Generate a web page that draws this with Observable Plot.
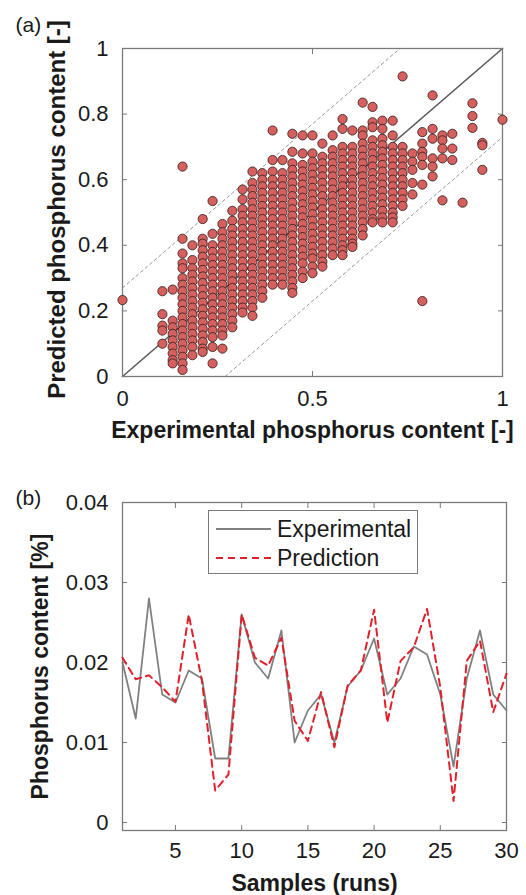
<!DOCTYPE html>
<html>
<head>
<meta charset="utf-8">
<script src="https://cdn.jsdelivr.net/npm/d3@7"></script>
<script src="https://cdn.jsdelivr.net/npm/@observablehq/plot@0.6"></script>
<style>
  html, body { margin: 0; padding: 0; background: #fff; }
  #wrap { position: relative; width: 526px; height: 895px; font-family: "Liberation Sans", Arial, sans-serif; color: #1a1a1a; }
  #top { position: absolute; left: 0; top: 0; }
  #bottom { position: absolute; left: 0; top: 450px; }
  #legend { position: absolute; left: 208px; top: 510px; width: 210px; height: 64px; border: 1px solid #7a7a7a; background: #fff; box-sizing: border-box; font-size: 23px; }
  #legend .row { position: absolute; left: 0; height: 28px; display: flex; align-items: center; }
  #legend svg { display: block; }
</style>
</head>
<body>
<div id="wrap">
  <div id="top"></div>
  <div id="bottom"></div>
  <div id="legend"></div>
</div>
<script>
// ---------- Panel (a): scatter, column positions (experimental) and predicted values ----------
const colX = [0, 0.105, 0.132, 0.158, 0.184, 0.211, 0.237, 0.263, 0.289, 0.316, 0.342, 0.368, 0.395,
  0.421, 0.447, 0.474, 0.5, 0.526, 0.553, 0.579, 0.605, 0.632, 0.658, 0.684, 0.711, 0.737, 0.763,
  0.789, 0.816, 0.842, 0.868, 0.895, 0.921, 0.947, 1.0];
const colY = [
  [0.233],
  [0.26, 0.19, 0.155, 0.14, 0.10],
  [0.265, 0.17, 0.15, 0.13, 0.11, 0.09, 0.07, 0.05, 0.04],
  [0.64, 0.42, 0.375, 0.345, 0.33, 0.30, 0.28, 0.26, 0.24, 0.22, 0.20, 0.18, 0.16, 0.14, 0.12, 0.10, 0.08, 0.06, 0.04, 0.02],
  [0.40, 0.355, 0.33, 0.31, 0.29, 0.27, 0.25, 0.23, 0.21, 0.19, 0.17, 0.15, 0.13, 0.11, 0.09, 0.065],
  [0.48, 0.42, 0.405, 0.385, 0.365, 0.345, 0.325, 0.305, 0.285, 0.265, 0.245, 0.225, 0.205, 0.185, 0.165, 0.145, 0.125, 0.105, 0.085, 0.075],
  [0.535, 0.435, 0.40, 0.38, 0.36, 0.34, 0.32, 0.30, 0.28, 0.26, 0.24, 0.22, 0.20, 0.18, 0.16, 0.14, 0.12, 0.09, 0.04],
  [0.465, 0.44, 0.42, 0.40, 0.38, 0.36, 0.34, 0.32, 0.30, 0.28, 0.26, 0.24, 0.22, 0.20, 0.18, 0.16, 0.14, 0.125, 0.085],
  [0.505, 0.475, 0.45, 0.43, 0.41, 0.39, 0.37, 0.35, 0.33, 0.31, 0.29, 0.27, 0.25, 0.23, 0.21, 0.19, 0.17, 0.15],
  [0.57, 0.54, 0.51, 0.49, 0.47, 0.45, 0.43, 0.41, 0.39, 0.37, 0.35, 0.33, 0.31, 0.29, 0.27, 0.25, 0.23, 0.21, 0.195],
  [0.625, 0.59, 0.57, 0.55, 0.53, 0.51, 0.49, 0.47, 0.45, 0.43, 0.41, 0.39, 0.37, 0.35, 0.33, 0.31, 0.29, 0.27, 0.25, 0.23, 0.21, 0.185],
  [0.62, 0.60, 0.58, 0.56, 0.54, 0.52, 0.50, 0.48, 0.46, 0.44, 0.42, 0.40, 0.38, 0.36, 0.34, 0.32, 0.30, 0.28, 0.26, 0.24],
  [0.75, 0.66, 0.625, 0.60, 0.58, 0.56, 0.54, 0.52, 0.50, 0.48, 0.46, 0.44, 0.42, 0.40, 0.38, 0.36, 0.34, 0.32, 0.30, 0.28],
  [0.66, 0.62, 0.60, 0.58, 0.56, 0.54, 0.52, 0.50, 0.48, 0.46, 0.44, 0.42, 0.40, 0.38, 0.36, 0.34, 0.32, 0.30, 0.28],
  [0.74, 0.685, 0.65, 0.63, 0.61, 0.59, 0.57, 0.55, 0.53, 0.51, 0.49, 0.47, 0.45, 0.43, 0.41, 0.39, 0.37, 0.35, 0.33, 0.31, 0.29, 0.27, 0.255],
  [0.735, 0.68, 0.645, 0.625, 0.605, 0.585, 0.565, 0.545, 0.525, 0.505, 0.485, 0.465, 0.445, 0.425, 0.405, 0.385, 0.365, 0.345, 0.32, 0.30],
  [0.735, 0.68, 0.655, 0.635, 0.615, 0.595, 0.575, 0.555, 0.535, 0.515, 0.495, 0.475, 0.455, 0.435, 0.415, 0.395, 0.375, 0.36, 0.335, 0.315],
  [0.71, 0.67, 0.65, 0.63, 0.61, 0.59, 0.57, 0.55, 0.53, 0.51, 0.49, 0.47, 0.45, 0.43, 0.41, 0.39, 0.37, 0.35, 0.335],
  [0.735, 0.69, 0.67, 0.65, 0.63, 0.61, 0.59, 0.57, 0.55, 0.53, 0.51, 0.49, 0.47, 0.45, 0.43, 0.41, 0.39, 0.37],
  [0.785, 0.755, 0.70, 0.68, 0.66, 0.64, 0.62, 0.60, 0.58, 0.56, 0.54, 0.52, 0.50, 0.48, 0.46, 0.44, 0.42, 0.40, 0.385, 0.37],
  [0.75, 0.70, 0.68, 0.66, 0.64, 0.62, 0.60, 0.58, 0.56, 0.54, 0.52, 0.50, 0.48, 0.46, 0.44, 0.42, 0.405, 0.395],
  [0.835, 0.75, 0.735, 0.71, 0.69, 0.67, 0.65, 0.63, 0.61, 0.59, 0.57, 0.55, 0.53, 0.51, 0.49, 0.47, 0.45, 0.43],
  [0.822, 0.775, 0.76, 0.72, 0.70, 0.68, 0.66, 0.64, 0.62, 0.60, 0.58, 0.56, 0.54, 0.52, 0.50, 0.48, 0.47],
  [0.78, 0.755, 0.725, 0.705, 0.685, 0.665, 0.645, 0.625, 0.605, 0.585, 0.565, 0.545, 0.525, 0.505, 0.485, 0.47],
  [0.78, 0.735, 0.70, 0.68, 0.66, 0.64, 0.62, 0.60, 0.58, 0.56, 0.54, 0.52, 0.50, 0.485, 0.47],
  [0.915, 0.70, 0.68, 0.66, 0.64, 0.62, 0.60, 0.58, 0.56, 0.54, 0.52],
  [0.68, 0.655, 0.63, 0.59, 0.555],
  [0.745, 0.71, 0.685, 0.67, 0.645, 0.585, 0.23],
  [0.857, 0.755, 0.725, 0.665, 0.64, 0.61],
  [0.735, 0.72, 0.695, 0.665, 0.537],
  [0.74, 0.695, 0.66],
  [0.53],
  [0.833, 0.794, 0.758],
  [0.712, 0.705, 0.63],
  [0.783]
];
const aXTicks = [0, 0.5, 1];
const aYTicks = [0, 0.2, 0.4, 0.6, 0.8, 1];
const identityX = [0, 1];
const bandOffset = 0.27;

// ---------- Panel (b): time series ----------
const samples = [1,2,3,4,5,6,7,8,9,10,11,12,13,14,15,16,17,18,19,20,21,22,23,24,25,26,27,28,29,30];
const experimental = [0.020,0.013,0.028,0.016,0.015,0.019,0.018,0.008,0.008,0.026,0.020,0.018,0.024,0.010,0.014,
  0.016,0.010,0.017,0.019,0.023,0.016,0.018,0.022,0.021,0.016,0.007,0.018,0.024,0.016,0.014];
const prediction = [0.0206,0.0179,0.0184,0.0169,0.0151,0.0260,0.0177,0.0040,0.0060,0.0260,0.0206,0.0196,0.0231,0.0127,0.0102,
  0.0163,0.0094,0.0171,0.0190,0.0266,0.0125,0.0202,0.0219,0.0267,0.0169,0.0027,0.0202,0.0227,0.0138,0.0186];
const bXTicks = [5, 10, 15, 20, 25, 30];
const bYTicks = [0, 0.01, 0.02, 0.03, 0.04];
const seriesNames = ["Experimental", "Prediction"];

const scatter = colX.flatMap((x, i) => colY[i].map(y => ({x, y})));
const series = samples.map((s, i) => ({s, e: experimental[i], p: prediction[i]}));

const FONT = "'Liberation Sans', Arial, sans-serif";
const FRAME = "#7a7a7a";
const fmt = d => String(d);
const blank = () => "";

const plotA = Plot.plot({
  width: 526, height: 450,
  marginLeft: 122, marginRight: 24, marginTop: 48, marginBottom: 74,
  style: {fontFamily: FONT, fontSize: "22px", color: "#1a1a1a", background: "#fff", overflow: "visible"},
  x: {domain: [0, 1]},
  y: {domain: [0, 1]},
  marks: [
    Plot.line([0, 1 - bandOffset], {x: d => d, y: d => d + bandOffset, stroke: "#9a9a9a", strokeWidth: 1, strokeDasharray: "3,3"}),
    Plot.line([bandOffset, 1], {x: d => d, y: d => d - bandOffset, stroke: "#9a9a9a", strokeWidth: 1, strokeDasharray: "3,3"}),
    Plot.line(identityX, {x: d => d, y: d => d, stroke: "#5a5a5a", strokeWidth: 1.6}),
    Plot.frame({stroke: FRAME, strokeWidth: 1.3}),
    Plot.axisX({anchor: "bottom", ticks: aXTicks, tickFormat: fmt, tickSize: -5, tickPadding: 19, stroke: FRAME, label: null}),
    Plot.axisX({anchor: "top", ticks: aXTicks, tickFormat: blank, tickSize: -5, stroke: FRAME, label: null}),
    Plot.axisY({anchor: "left", ticks: aYTicks, tickFormat: fmt, tickSize: -5, tickPadding: 19, stroke: FRAME, label: null}),
    Plot.axisY({anchor: "right", ticks: aYTicks, tickFormat: blank, tickSize: -5, stroke: FRAME, label: null}),
    Plot.dot(scatter, {x: "x", y: "y", r: 4.6, fill: "#d6605d", stroke: "#2e1818", strokeWidth: 0.8}),
    Plot.text(["Experimental phosphorus content [-]"], {frameAnchor: "bottom", dy: 54, textAnchor: "middle", lineAnchor: "middle", fontWeight: "bold", fontSize: 23}),
    Plot.text(["Predicted phosphorus content [-]"], {frameAnchor: "left", rotate: -90, dx: -65, dy: -3, textAnchor: "middle", lineAnchor: "middle", fontWeight: "bold", fontSize: 24, letterSpacing: 1}),
    Plot.text(["(a)"], {frameAnchor: "top-left", dx: -107, dy: -23, textAnchor: "start", lineAnchor: "middle", fontSize: 21})
  ]
});
document.getElementById("top").appendChild(plotA);

const plotB = Plot.plot({
  width: 526, height: 445,
  marginLeft: 122, marginRight: 20, marginTop: 52, marginBottom: 65,
  style: {fontFamily: FONT, fontSize: "22px", color: "#1a1a1a", background: "#fff", overflow: "visible"},
  x: {domain: [1, 30]},
  y: {domain: [-0.001, 0.04]},
  marks: [
    Plot.frame({stroke: FRAME, strokeWidth: 1.3}),
    Plot.axisX({anchor: "bottom", ticks: bXTicks, tickFormat: fmt, tickSize: -5, tickPadding: 17, stroke: FRAME, label: null}),
    Plot.axisX({anchor: "top", ticks: bXTicks, tickFormat: blank, tickSize: -5, stroke: FRAME, label: null}),
    Plot.axisY({anchor: "left", ticks: bYTicks, tickFormat: fmt, tickSize: -5, tickPadding: 19, stroke: FRAME, label: null}),
    Plot.axisY({anchor: "right", ticks: bYTicks, tickFormat: blank, tickSize: -5, stroke: FRAME, label: null}),
    Plot.line(series, {x: "s", y: "e", stroke: "#808080", strokeWidth: 1.8}),
    Plot.line(series, {x: "s", y: "p", stroke: "#e0202a", strokeWidth: 2, strokeDasharray: "7,5"}),
    Plot.text(["Samples (runs)"], {frameAnchor: "bottom", dy: 53, textAnchor: "middle", lineAnchor: "middle", fontWeight: "bold", fontSize: 23}),
    Plot.text(["Phosphorus content [%]"], {frameAnchor: "left", rotate: -90, dx: -82, textAnchor: "middle", lineAnchor: "middle", fontWeight: "bold", fontSize: 23}),
    Plot.text(["(b)"], {frameAnchor: "top-left", dx: -107, dy: -4, textAnchor: "start", lineAnchor: "middle", fontSize: 21})
  ]
});
document.getElementById("bottom").appendChild(plotB);

// Legend
const legend = document.getElementById("legend");
const styles = [
  {stroke: "#808080", dash: null, top: 4},
  {stroke: "#e0202a", dash: "7,5", top: 33}
];
seriesNames.forEach((name, i) => {
  const st = styles[i];
  const row = document.createElement("div");
  row.className = "row";
  row.style.top = st.top + "px";
  row.innerHTML = `<svg width="68" height="28"><line x1="7" x2="62" y1="14" y2="14" stroke="${st.stroke}" stroke-width="${i ? 2 : 1.8}" ${st.dash ? `stroke-dasharray="${st.dash}"` : ""}/></svg><span>${name}</span>`;
  legend.appendChild(row);
});
</script>
</body>
</html>
